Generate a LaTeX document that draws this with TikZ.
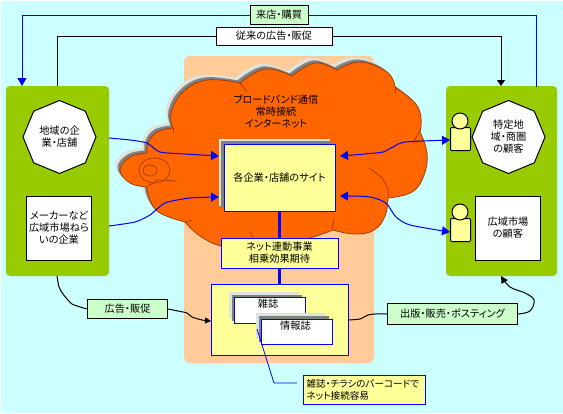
\documentclass[tikz,border=0pt]{standalone}
\usepackage{fontspec}
\setmainfont[RawFeature=+palt]{Noto Sans CJK JP}
\usetikzlibrary{arrows.meta,shapes.geometric,shadows}
\definecolor{bgc}{HTML}{CCFFFF}
\definecolor{peach}{HTML}{FFCC99}
\definecolor{panel}{HTML}{99CC00}
\definecolor{orng}{HTML}{FF6600}
\definecolor{edgeb}{HTML}{A33C00}
\definecolor{yel}{HTML}{FFFF99}
\definecolor{lgreen}{HTML}{CCFFCC}
\definecolor{blu}{HTML}{0000FF}
\definecolor{shA}{HTML}{DDE3DD}
\definecolor{shB}{HTML}{808080}
\tikzset{
  txt/.style={font=\fontsize{10.2}{12}\selectfont,align=center,inner sep=0pt,text=black},
  boxn/.style={txt,rectangle,draw=black,line width=1pt},
  whitebox/.style={boxn,fill=white},
  greenbox/.style={boxn,fill=lgreen},
  yelbox/.style={boxn,fill=yel,draw=blu},
  paper/.style={boxn,fill=white,draw=blu},
  octa/.style={txt,regular polygon,regular polygon sides=8,shape border rotate=22.5,draw=black,line width=1pt,fill=white,minimum size=73pt},
  pan/.style={rectangle,fill=panel,rounded corners=4pt,inner sep=0pt},
  conB/.style={draw=blu,line width=1pt},
  conK/.style={draw=black,line width=1pt},
  tipB/.style={-{Triangle[length=8pt,width=9pt]}},
  tipBoth/.style={{Triangle[length=8pt,width=9pt]}-{Triangle[length=8pt,width=9pt]}},
  bodyp/.style={rectangle,draw=black,line width=1pt,fill=yel,rounded corners=1pt,minimum width=20pt,minimum height=23pt,inner sep=0pt},
  headp/.style={circle,draw=black,line width=1pt,fill=yel,minimum size=16pt,inner sep=0pt},
  inner/.style={draw=edgeb,line width=.7pt},
}
\newcommand{\cloudshape}{
  plot[smooth,tension=.7] coordinates {(147,153) (130,157) (120,170) (130,183) (147,187)}
  -- plot[smooth,tension=.7] coordinates {(147,187) (150,200) (160,213) (185,222)}
  -- plot[smooth,tension=.7] coordinates {(185,222) (200,236) (222,246) (250,246) (280,246)}
  -- plot[smooth,tension=.7] coordinates {(280,246) (310,238) (333,230)}
  -- plot[smooth,tension=.7] coordinates {(333,230) (355,234) (374,230) (385,216) (388,198)}
  -- plot[smooth,tension=.7] coordinates {(388,198) (412,192) (424,175) (427,153) (420,132)}
  -- plot[smooth,tension=.7] coordinates {(420,132) (421,118) (415,103) (395,87)}
  -- plot[smooth,tension=.7] coordinates {(395,87) (387,72) (360,62) (337,70)}
  -- plot[smooth,tension=.7] coordinates {(337,70) (315,63) (292,76)}
  -- plot[smooth,tension=.7] coordinates {(292,76) (265,69) (240,83)}
  -- plot[smooth,tension=.7] coordinates {(240,83) (207,80) (183,92) (171,113) (173,128)}
  -- plot[smooth,tension=.7] coordinates {(173,128) (157,132) (148,143) (147,153)}
  -- cycle}
\begin{document}
\begin{tikzpicture}[x=1pt,y=-1pt]
\useasboundingbox (0,0) rectangle (563,413);
\fill[white] (0,0) rectangle (563,413);
\fill[bgc] (1,1) rectangle (563,413);
% centre peach panel
\node[pan,fill=peach,rounded corners=6pt,minimum width=190pt,minimum height=307pt] (backp) at (279,209.5) {};
% cloud
\fill[shA,shift={(-5,-5)}] \cloudshape;
\fill[shB,shift={(-2.5,-2.5)}] \cloudshape;
\filldraw[fill=orng,draw=edgeb,line width=.8pt] \cloudshape;
\draw[inner] (154.5,170.5) ellipse [x radius=15.5,y radius=12.5];
\draw[inner] (150,170.5) ellipse [x radius=7,y radius=5.5];
\draw[inner] (148,186) -- (158,180) -- (177,181);
\draw[inner] (240,83) -- (247,92);
\draw[inner] (173,128) -- (173,133);
\draw[inner] (395,87) -- (395,93);
\draw[inner] (420,130) -- (413,143);
\draw[inner] plot[smooth] coordinates {(369,168) (382,178) (388,190) (388,198)};
\draw[inner] (250,231) -- (253,238);
\draw[inner] (334,219) -- (332,229);
\draw[inner] (185,222) -- (192,220);
% side panels
\node[pan,minimum width=103pt,minimum height=190pt] (lpanel) at (57.5,181) {};
\node[pan,minimum width=111pt,minimum height=190pt] (rpanel) at (501.5,181) {};
% cloud text
\node[txt] (cloudtxt) at (276,112) {ブロードバンド通信\\常時接続\\インターネット};
% central boxes
\fill[shA] (219,138.5) rectangle (330,206);
\fill[shB] (221,141) rectangle (332,208);
\node[yelbox,minimum width=111pt,minimum height=67pt] (site) at (279.5,177.5) {各企業・店舗のサイト};
\node[yelbox,minimum width=117pt,minimum height=30pt] (synergy) at (279.5,253) {ネット連動事業\\相乗効果期待};
\node[yelbox,minimum width=137pt,minimum height=71pt] (mags) at (279.5,319.5) {};
\draw[draw=blu,line width=3pt] (site.south) -- (synergy.north);
\draw[draw=blu,line width=3pt] (synergy.south) -- (mags.north);
% magazines
\fill[shA] (229,292) rectangle (299,318);
\fill[shB] (232,295) rectangle (302,321);
\node[paper,minimum width=71pt,minimum height=26pt] (mag1) at (269.5,310) {};
\node[txt] (mag1t) at (268,303.5) {雑誌};
\fill[shA] (256,313) rectangle (326,339);
\fill[shB] (259,316) rectangle (329,342);
\node[paper,minimum width=71pt,minimum height=25pt] (mag2) at (296.5,331.5) {};
\node[txt] (mag2t) at (295.5,326) {情報誌};
% left items
\node[octa] (localco) at (59.5,137) {地域の企\\業・店舗};
\node[whitebox,minimum width=65pt,minimum height=64pt] (maker) at (59,228) {メーカーなど\\広域市場ねら\\いの企業};
% right items
\node[octa] (localcu) at (508.5,137) {特定地\\域・商圏\\の顧客};
\node[whitebox,minimum width=65pt,minimum height=64pt] (widecu) at (508,228) {広域市場\\の顧客};
\node[bodyp] (p1b) at (460.5,139) {};
\node[headp] (p1h) at (460,121) {};
\node[bodyp] (p2b) at (460.5,230) {};
\node[headp] (p2h) at (460,212) {};
% labels
\node[greenbox,minimum width=58pt,minimum height=19pt] (visit) at (279,15) {来店・購買};
\node[whitebox,minimum width=116pt,minimum height=18pt] (conv) at (274,36) {従来の広告・販促};
\node[greenbox,minimum width=80pt,minimum height=19pt] (ads) at (127.5,309) {広告・販促};
\node[greenbox,minimum width=130pt,minimum height=21pt] (pub) at (452.5,314) {出版・販売・ポスティング};
\node[yelbox,minimum width=122pt,minimum height=29pt,align=left,font=\fontsize{9.6}{12}\selectfont,text width=115pt] (note) at (364,390) {雑誌・チラシのバーコードで\\ネット接続容易};
% connector ends
\coordinate (visL) at (22,86);
\coordinate (visR) at (536,87);
\coordinate (conL) at (57,86);
\coordinate (conR) at (501,86);
\coordinate (lp1) at (109,138);
\coordinate (lp2) at (109,226);
\coordinate (st1) at (219,156);
\coordinate (st2) at (219,197);
\coordinate (st3) at (340,156);
\coordinate (st4) at (340,196);
\coordinate (per1) at (450,140);
\coordinate (per2) at (450,232);
\coordinate (lpb) at (57,276);
\coordinate (magL) at (211,321);
\coordinate (magR) at (348,320);
\coordinate (rpb) at (501,276);
\coordinate (mag2c) at (257,329);
\coordinate (noteL) at (297,383);
% connectors
\draw[conB,tipB] (visit.west) -| (visL);
\draw[conB] (visit.east) -| (visR);
\draw[conK] (conv.west) -| (conL);
\draw[conK,-{Triangle[length=6pt,width=8pt]}] (conv.east) -| (conR);
\draw[conB,tipB] plot[smooth,tension=.4] coordinates {(lp1) (130,140) (147,143) (160,152) (185,154) (st1)};
\draw[conB,tipB] plot[smooth,tension=.4] coordinates {(lp2) (135,222) (150,215) (165,203) (190,198) (st2)};
\draw[conB,tipBoth] plot[smooth,tension=.4] coordinates {(st3) (365,154) (383,152) (393,147) (405,142) (per1)};
\draw[conB,tipBoth] plot[smooth,tension=.4] coordinates {(st4) (370,197) (386,203) (396,217) (410,225) (per2)};
\draw[conK] plot[smooth,tension=.4] coordinates {(lpb) (59,287) (63,294) (72,304) (ads.west)};
\draw[conK,-{Triangle[length=6pt,width=6pt]}] plot[smooth,tension=.4] coordinates {(ads.east) (178,311) (187,313) (192,317) (202,320) (magL)};
\draw[conK] plot[smooth,tension=.4] coordinates {(magR) (360,319) (368,315) (375,314) (pub.west)};
\draw[conK,-{Triangle[length=7pt,width=7pt]}] plot[smooth,tension=.6] coordinates {(pub.east) (530,311) (534,300) (525,293) (510,287) (rpb)};
\draw[draw=blu,line width=.8pt] (mag2c) -- (274,383) -- (noteL);
\end{tikzpicture}
\end{document}
